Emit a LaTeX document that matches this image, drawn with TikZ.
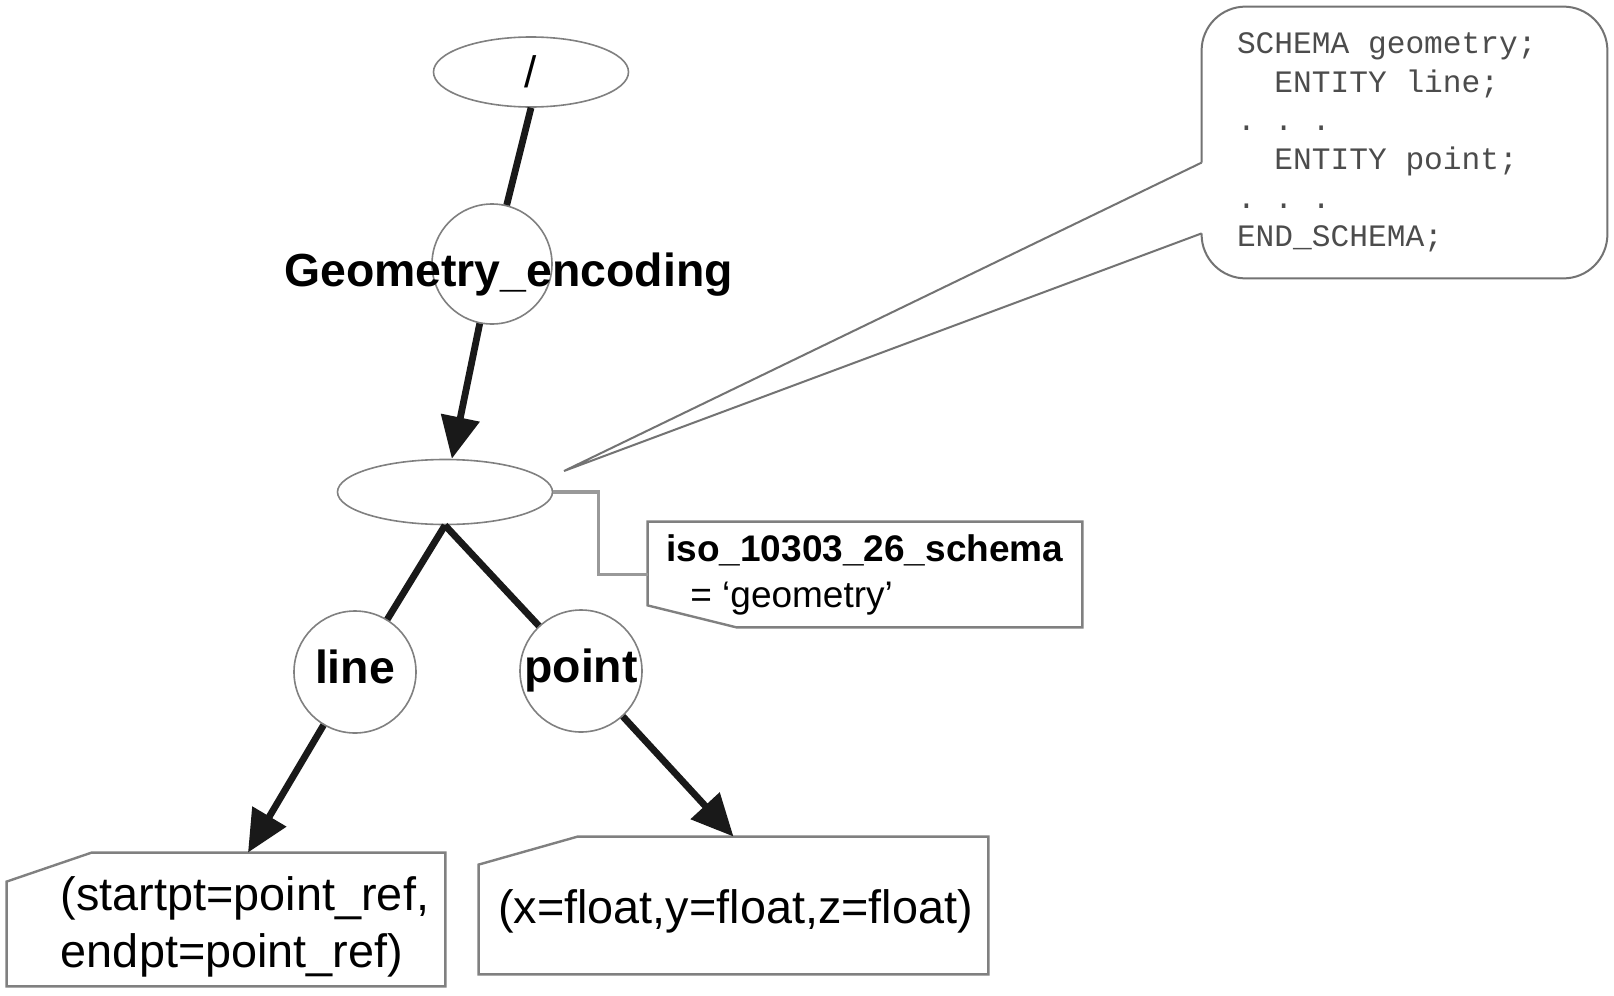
\documentclass[tikz,border=0pt]{standalone}
\usepackage{fontspec}
\setmainfont{Liberation Sans}
\setmonofont{Liberation Mono}
\usetikzlibrary{shapes.geometric, arrows.meta}

\begin{document}
\begin{tikzpicture}[x=0.5pt, y=-0.5pt,
   oval/.style={ellipse, draw=black!50, line width=0.8pt, inner sep=0pt},
   entity/.style={circle, draw=black!50, line width=0.8pt, minimum size=61pt, inner sep=0pt, text depth=4.9pt, font=\fontsize{23.2pt}{28pt}\selectfont\bfseries},
   note/.style={rectangle, inner sep=0pt, font=\fontsize{23.4pt}{28.5pt}\selectfont},
   noteline/.style={draw=black!50, line width=1.2pt},
   link/.style={draw=black!90, line width=3.4pt},
   post/.style={-{Triangle[length=21pt, width=19pt]}},
   attr/.style={draw=black!40, line width=1.6pt},
   code/.style={draw=black!55, line width=1pt}]

   \useasboundingbox (0,0) rectangle (1614,996);
   \fill [white] (0,0) rectangle (1614,996);

   \node [oval, minimum width=97.5pt, minimum height=35pt, font=\fontsize{22pt}{26pt}\selectfont] (vRoot) at (531,72) {/};
   \node [entity, minimum size=60pt, label={[xshift=8.25pt, yshift=-5.35pt, font=\fontsize{23.2pt}{28pt}\selectfont\bfseries]center:Geometry\_encoding}] (vGeom) at (492,264) {};
   \node [oval, minimum width=107.5pt, minimum height=32.5pt] (vSchema) at (445,492) {};

   \foreach \n/\x/\y/\t in {Line/355/672/line, Point/581/671/point}
     \node [entity] (v\n) at (\x,\y) {\t};

   \node [note, minimum width=219pt, minimum height=66.5pt,
          label={[note, align=left, xshift=9.5pt, yshift=-3.5pt]center:{(startpt=point\_ref,\\endpt=point\_ref)}}] (bLine) at (226,919.5) {};
   \node [note, minimum width=254.5pt, minimum height=68.5pt,
          label={[note, xshift=1pt, yshift=-3pt]center:{(x=float,y=float,z=float)}}] (bPoint) at (733.5,905.5) {};
   \node [note, minimum width=217pt, minimum height=52.5pt, align=left, font=\fontsize{18.5pt}{23pt}\selectfont] (bIso) at (865,574.5)
         {\textbf{iso\_10303\_26\_schema}\\\hspace*{12pt}= ‘geometry’};
   \node [rectangle, inner sep=0pt, minimum width=202.5pt, minimum height=135.5pt,
          label={[align=left, text=black!70, font=\ttfamily\fontsize{15.6pt}{19.3pt}\selectfont, xshift=-8.85pt]center:{SCHEMA geometry;\\~~ENTITY line;\\.~.~.\\~~ENTITY point;\\.~.~.\\END\_SCHEMA;}}] (cCode) at (1404.5,142.5) {};
   \coordinate (cTip) at (564,471);
   \coordinate (bLineTop) at ([xshift=11pt]bLine.north);

   \draw [noteline] (bLine.north east) -- (bLine.south east) -- (bLine.south west) -- ([yshift=-14.5pt]bLine.north west) -- ([xshift=42.5pt]bLine.north west) -- cycle;
   \draw [noteline] (bPoint.north east) -- (bPoint.south east) -- (bPoint.south west) -- ([yshift=-14pt]bPoint.north west) -- ([xshift=49.5pt]bPoint.north west) -- cycle;
   \draw [noteline] (bIso.north west) -- (bIso.north east) -- (bIso.south east) -- ([xshift=44.5pt]bIso.south west) -- ([yshift=11pt]bIso.south west) -- cycle;

   \draw [code, rounded corners=22pt] ([yshift=-78pt]cCode.north west) -- (cCode.north west) -- (cCode.north east) -- (cCode.south east) -- (cCode.south west) -- ([yshift=22.5pt]cCode.south west);
   \draw [code] ([yshift=-78pt]cCode.north west) -- (cTip) -- ([yshift=22.5pt]cCode.south west);

   \draw [attr] (vSchema.east) -- ++(45,0) |- (bIso.west);

   \foreach \i/\j in {vRoot.south/vGeom, vSchema.south/vLine, vSchema.south/vPoint}
     \draw [link] (\i) -- (\j);
   \foreach \i/\j in {vGeom/vSchema, vLine/bLineTop, vPoint/bPoint.north}
     \draw [link, post] (\i) -- (\j);

\end{tikzpicture}
\end{document}
